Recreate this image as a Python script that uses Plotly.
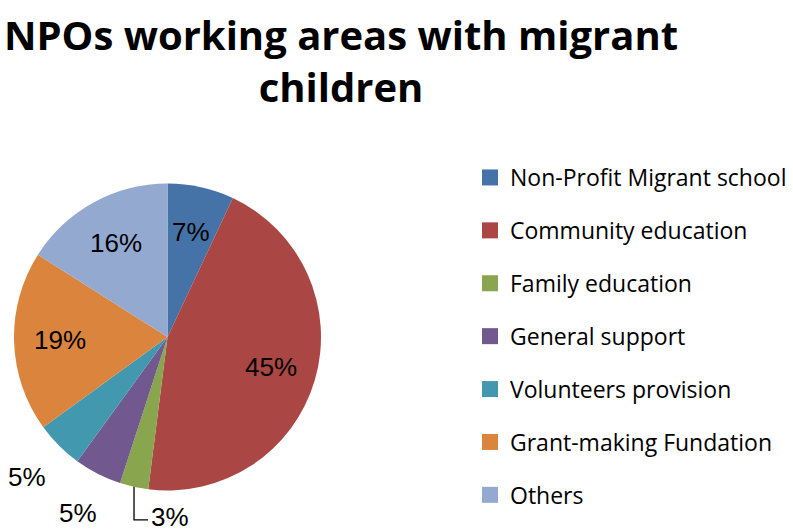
import math
import plotly.graph_objects as go

# ---- data ----
categories = ["Non-Profit Migrant school", "Community education", "Family education",
              "General support", "Volunteers provision", "Grant-making Fundation", "Others"]
shares = [7, 45, 3, 5, 5, 19, 16]
colors = ["#4572A7", "#AA4643", "#89A54E", "#71588F", "#4198AF", "#DB843D", "#93A9CF"]
outside = [False, False, True, True, True, False, False]
title_text = "NPOs working areas with migrant<br>children"

W, H = 793, 529
# pie geometry (pixels)
CX, CY, R = 167.5, 337.0, 153.5
LABEL_FONT = dict(family="Liberation Sans, Arial, sans-serif", size=26, color="#000000")

labels_txt = [f"{v}%" for v in shares]

fig = go.Figure()
fig.add_trace(go.Pie(
    labels=categories, values=shares, sort=False, direction="clockwise", rotation=0,
    marker=dict(colors=colors, line=dict(width=0)),
    textinfo="none", showlegend=False, hoverinfo="label+percent",
    domain=dict(x=[(CX - R) / W, (CX + R) / W], y=[(H - CY - R) / H, (H - CY + R) / H]),
))

# legend entries (one group each so spacing can be controlled)
for i, (c, col) in enumerate(zip(categories, colors)):
    fig.add_trace(go.Scatter(
        x=[None], y=[None], mode="markers", name=c, legendgroup=f"g{i}",
        marker=dict(symbol="square", size=16, color=col), showlegend=True,
    ))

# data labels, positioned from slice angles
total = sum(shares)
cum = 0
annotations = []
shapes = []
for v, t, o in zip(shares, labels_txt, outside):
    mid = (cum + v / 2) / total * 2 * math.pi
    cum += v
    sx, sy = math.sin(mid), math.cos(mid)
    if not o:
        k = 0.7
        lx, ly = CX + k * R * sx, CY - k * R * sy
        annotations.append(dict(x=lx / W, y=1 - ly / H, xref="paper", yref="paper",
                                text=t, showarrow=False, xanchor="center", yanchor="middle",
                                font=LABEL_FONT))
    elif v < 4:
        ex, ey = CX + R * sx, CY - R * sy
        bx, by = ex, ey + 33
        shapes.append(dict(type="path", xref="paper", yref="paper",
                           path=f"M {ex / W} {1 - ey / H} L {bx / W} {1 - by / H} L {(bx + 14) / W} {1 - by / H}",
                           line=dict(color="#000000", width=1.3)))
        annotations.append(dict(x=(bx + 15) / W, y=1 - (by - 3) / H, xref="paper", yref="paper",
                                text=t, showarrow=False, xanchor="left", yanchor="middle",
                                font=LABEL_FONT))
    else:
        k = 1.29
        lx, ly = CX + k * R * sx, CY - k * R * sy
        annotations.append(dict(x=lx / W, y=1 - ly / H, xref="paper", yref="paper",
                                text=t, showarrow=False, xanchor="center", yanchor="middle",
                                font=LABEL_FONT))

fig.update_layout(
    width=W, height=H, margin=dict(l=0, r=0, t=0, b=0),
    paper_bgcolor="white", plot_bgcolor="white",
    title=dict(text=title_text, x=341 / W, xanchor="center", y=0.905, yanchor="top",
               font=dict(family="Open Sans, sans-serif", size=40, color="#000000", weight="bold")),
    xaxis=dict(visible=False), yaxis=dict(visible=False),
    legend=dict(x=470 / W, y=1 - 156 / H, xanchor="left", yanchor="top",
                font=dict(family="Open Sans, sans-serif", size=23, color="#000000"),
                tracegroupgap=20, itemwidth=30, bgcolor="rgba(0,0,0,0)"),
    annotations=annotations, shapes=shapes,
)

fig.write_html("out.html")
